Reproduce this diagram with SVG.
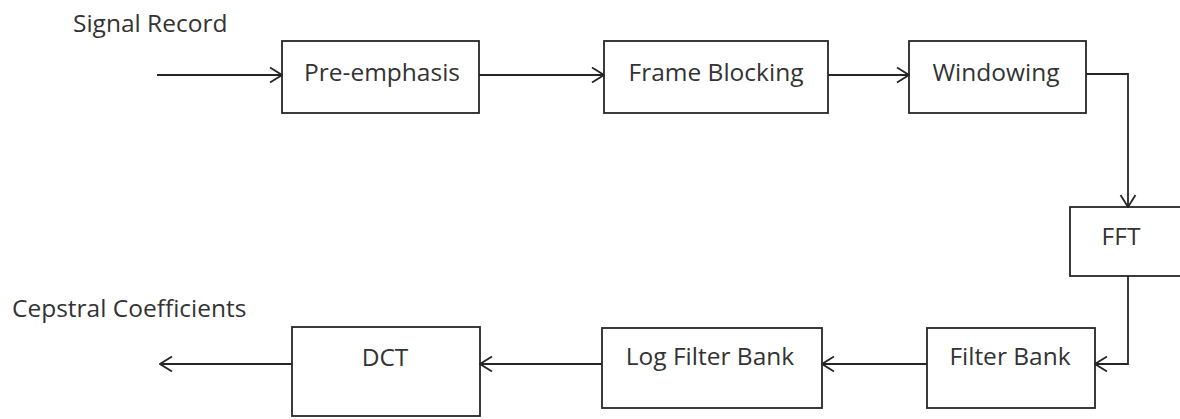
<svg xmlns="http://www.w3.org/2000/svg" width="1180" height="419" viewBox="0 0 1180 419">
<style>
.box{fill:#fff;stroke:#262626;stroke-width:1.8}
.lbl{font-family:"Open Sans","Liberation Sans",sans-serif;font-size:24.5px;fill:#333}
.conn{fill:none;stroke:#262626;stroke-width:1.8}
</style>
<defs>
<marker id="arr" viewBox="0 0 14 18" refX="13" refY="9" markerWidth="14" markerHeight="18" markerUnits="userSpaceOnUse" orient="auto">
<path d="M1,1.5 L13,9 L1,16.5" fill="none" stroke="#262626" stroke-width="1.8"/>
</marker>
</defs>
<rect width="1180" height="419" fill="#fff"/>
<text class="lbl" x="73" y="32">Signal Record</text>
<text class="lbl" x="12" y="317">Cepstral Coefficients</text>
<g id="pre-emphasis"><rect class="box" x="282" y="41" width="197" height="72"/><text class="lbl" x="382" y="81" text-anchor="middle">Pre-emphasis</text></g>
<g id="frame-blocking"><rect class="box" x="604" y="41" width="224" height="72"/><text class="lbl" x="716" y="81" text-anchor="middle">Frame Blocking</text></g>
<g id="windowing"><rect class="box" x="909" y="41" width="177" height="72"/><text class="lbl" x="996" y="81" text-anchor="middle">Windowing</text></g>
<g id="fft"><rect class="box" x="1070" y="207" width="120" height="69"/><text class="lbl" x="1121" y="245" text-anchor="middle">FFT</text></g>
<g id="filter-bank"><rect class="box" x="927" y="328" width="168" height="80"/><text class="lbl" x="1010" y="365" text-anchor="middle">Filter Bank</text></g>
<g id="log-filter-bank"><rect class="box" x="602" y="328" width="220" height="80"/><text class="lbl" x="710" y="365" text-anchor="middle">Log Filter Bank</text></g>
<g id="dct"><rect class="box" x="292" y="327" width="188" height="89"/><text class="lbl" x="385" y="366" text-anchor="middle">DCT</text></g>
<g id="connectors">
<path class="conn" d="M157,75 H282" marker-end="url(#arr)"/>
<path class="conn" d="M479,75 H604" marker-end="url(#arr)"/>
<path class="conn" d="M828,75 H909" marker-end="url(#arr)"/>
<path class="conn" d="M1086,74 H1128 V207" marker-end="url(#arr)"/>
<path class="conn" d="M1128,276 V364 H1095" marker-end="url(#arr)"/>
<path class="conn" d="M927,364 H822" marker-end="url(#arr)"/>
<path class="conn" d="M602,364 H480" marker-end="url(#arr)"/>
<path class="conn" d="M292,364 H160" marker-end="url(#arr)"/>
</g>
</svg>
